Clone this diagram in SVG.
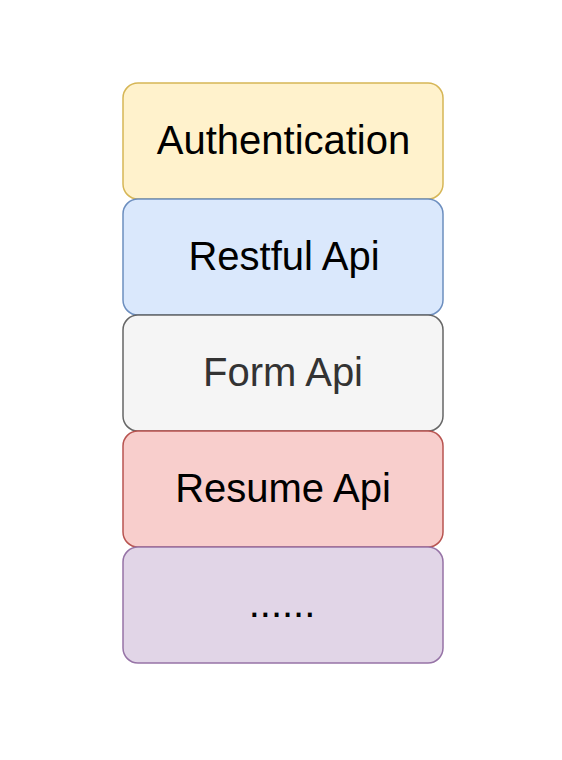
<svg xmlns="http://www.w3.org/2000/svg" width="562" height="760" viewBox="0 0 562 760">
<style>
.box{stroke-width:1.5}
.lbl{font-family:"Liberation Sans",Arial,Helvetica,sans-serif;font-size:40px;text-anchor:middle;fill:#000}
</style>
<rect width="562" height="760" fill="#ffffff"/>
<g id="connectors"></g>
<g id="authentication">
<rect class="box" x="123" y="83" width="320" height="116" rx="15" fill="#fff2cc" stroke="#d6b656"/>
<text class="lbl" x="283.5" y="154">Authentication</text>
</g>
<g id="restful-api">
<rect class="box" x="123" y="199" width="320" height="116" rx="15" fill="#dae8fc" stroke="#6c8ebf"/>
<text class="lbl" x="284" y="270">Restful Api</text>
</g>
<g id="form-api">
<rect class="box" x="123" y="315" width="320" height="116" rx="15" fill="#f5f5f5" stroke="#666666"/>
<text class="lbl" x="283" y="386" style="fill:#333333">Form Api</text>
</g>
<g id="resume-api">
<rect class="box" x="123" y="431" width="320" height="116" rx="15" fill="#f8cecc" stroke="#b85450"/>
<text class="lbl" x="283" y="502">Resume Api</text>
</g>
<g id="more">
<rect class="box" x="123" y="547" width="320" height="116" rx="15" fill="#e1d5e7" stroke="#9673a6"/>
<text class="lbl" x="282" y="617">......</text>
</g>
</svg>
